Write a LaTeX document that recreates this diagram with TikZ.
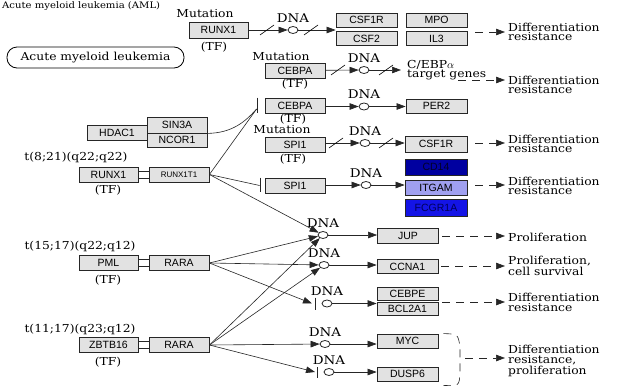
\documentclass[tikz,border=0pt]{standalone}
\usepackage{fontspec}
\usepackage{tikz}
\usetikzlibrary{arrows.meta,shapes.geometric}
\newfontfamily\keggserif{DejaVu Serif}[FakeStretch=1.12]
\newfontfamily\keggsans{Liberation Sans}
\newcommand\lblfont{\keggserif\fontsize{11}{9.5}\selectfont}
\newcommand\genefont{\keggsans\fontsize{10.5}{12}\selectfont}
\definecolor{boxgray}{RGB}{226,226,226}
\definecolor{cdnavy}{RGB}{0,0,160}
\definecolor{cdtext}{RGB}{0,0,40}
\definecolor{itgamfill}{RGB}{160,160,240}
\definecolor{fcgrfill}{RGB}{20,20,230}
\definecolor{fcgrtext}{RGB}{0,0,90}
\tikzset{
  gene/.style={draw=black!85, fill=boxgray, line width=0.8pt, minimum width=60pt, minimum height=15pt, inner sep=0pt, font=\genefont},
  lbl/.style={inner sep=0pt, font=\lblfont, align=left},
  dna/.style={draw=black!85, ellipse, line width=0.8pt, minimum width=10pt, minimum height=7pt, inner sep=0pt, label={[lbl, font=\keggserif\fontsize{12}{12}\selectfont, label distance=3.5pt]above:DNA}},
  link/.style={draw=black!85, line width=0.6pt},
  act/.style={link, -{Triangle[length=9pt,width=6.5pt]}},
  eff/.style={act, dash pattern=on 8pt off 6pt, shorten >=3pt},
  inhbar/.style={draw=black!85, line width=0.9pt},
  mutslash/.pic={\draw[-, solid, line width=0.6pt] (-7,5) -- (7,-5);}
}
\begin{document}
\begin{tikzpicture}[x=1pt,y=-1pt]
\useasboundingbox (0,0) rectangle (617,391);
\fill[white] (0,0) rectangle (617,391);
\node[lbl, anchor=base west, font=\keggserif\fontsize{9}{9}\selectfont] (title) at (2,8) {Acute myeloid leukemia (AML)};

\node[draw, line width=0.8pt, rounded corners=10pt, minimum width=177pt, minimum height=21pt, inner sep=0pt, font=\lblfont] (aml) at (95.5,57.5) {Acute myeloid leukemia};

\node[lbl] (mutA) at (205,14) {Mutation};
\node[gene, minimum width=59pt, minimum height=16pt] (runxA) at (218.5,30) {RUNX1};
\node[lbl] (tfA) at (214,47) {(TF)};
\node[dna] (dnaA) at (293,30) {};
\node[gene, minimum width=61pt, minimum height=14pt] (csf1rA) at (366.5,20) {CSF1R};
\node[gene, minimum width=61pt, minimum height=14pt] (mpo) at (436.5,20) {MPO};
\node[gene, minimum width=61pt, minimum height=14pt] (csf2) at (366.5,38.5) {CSF2};
\node[gene, minimum width=61pt, minimum height=14pt] (il3) at (436.5,38.5) {IL3};
\node[lbl, anchor=west] (diffA) at (508,32) {Differentiation\\resistance};

\node[lbl] (mutB) at (281,57) {Mutation};
\node[gene] (cebpaA) at (295,70.5) {CEBPA};
\node[lbl] (tfB) at (295,84) {(TF)};
\node[dna] (dnaB) at (364,70) {};
\node[lbl, anchor=west] (target) at (407,70) {C/EBP$\alpha$\\target genes};
\node[lbl, anchor=west] (diffB) at (508,85) {Differentiation\\resistance};

\node[gene] (cebpaB) at (295,105.5) {CEBPA};
\node[lbl] (tfC) at (293,119) {(TF)};
\node[dna] (dnaC) at (364,106.5) {};
\node[gene, minimum width=61pt, minimum height=14pt] (per2) at (436.5,106) {PER2};

\node[gene] (hdac1) at (117,132.5) {HDAC1};
\node[gene, minimum height=16pt] (sin3a) at (177,125) {SIN3A};
\node[gene, minimum height=14pt] (ncor1) at (177,140) {NCOR1};

\node[lbl] (mutC) at (282,130) {Mutation};
\node[gene] (spi1A) at (295,144.5) {SPI1};
\node[lbl] (tfD) at (293,159) {(TF)};
\node[dna] (dnaD) at (365,143) {};
\node[gene, minimum width=62pt, minimum height=16pt] (csf1rB) at (436,144) {CSF1R};
\node[lbl, anchor=west] (diffC) at (508,144) {Differentiation\\resistance};

\node[lbl] (t821) at (76,157.5) {t(8;21)(q22;q22)};
\node[gene, minimum width=59pt] (runxB) at (108.5,174.5) {RUNX1};
\node[gene, font=\keggsans\fontsize{8}{9}\selectfont] (runx1t1) at (179,174.5) {RUNX1T1};
\node[lbl] (tfE) at (108,190) {(TF)};
\node[gene] (spi1B) at (295,185.5) {SPI1};
\node[dna] (dnaE) at (366,185) {};
\node[gene, minimum width=62pt, minimum height=16pt, fill=cdnavy, text=cdtext] (cd14) at (436,167) {CD14};
\node[gene, minimum width=62pt, fill=itgamfill] (itgam) at (436,187.5) {ITGAM};
\node[gene, minimum width=62pt, minimum height=17pt, fill=fcgrfill, text=fcgrtext] (fcgr1a) at (436,207.5) {FCGR1A};
\node[lbl, anchor=west] (diffD) at (508,186) {Differentiation\\resistance};

\node[lbl] (t1517) at (80,246) {t(15;17)(q22;q12)};
\node[gene, minimum width=59pt] (pml) at (108.5,263) {PML};
\node[gene] (raraA) at (179,263) {RARA};
\node[lbl] (tfF) at (108,280) {(TF)};

\node[lbl] (t1117) at (80,329) {t(11;17)(q23;q12)};
\node[gene, minimum width=59pt] (zbtb16) at (108.5,345) {ZBTB16};
\node[gene] (raraB) at (179,345) {RARA};
\node[lbl] (tfG) at (108,362) {(TF)};

\node[dna] (dnaF) at (323,235) {};
\node[gene, minimum width=61pt] (jup) at (408,235.5) {JUP};
\node[lbl, anchor=west] (prolA) at (508,237) {Proliferation};
\node[dna] (dnaG) at (324,265) {};
\node[gene, minimum width=61pt, minimum height=14pt] (ccna1) at (407.5,266.5) {CCNA1};
\node[lbl, anchor=west] (prolB) at (508,266) {Proliferation,\\cell survival};
\node[dna] (dnaH) at (327,303.5) {};
\node[gene, minimum width=61pt, minimum height=13pt] (cebpe) at (407.5,294) {CEBPE};
\node[gene, minimum width=61pt, minimum height=13pt] (bcl2a1) at (407.5,308.5) {BCL2A1};
\node[lbl, anchor=west] (diffE) at (508,302.5) {Differentiation\\resistance};
\node[dna] (dnaI) at (325,344) {};
\node[gene, minimum width=61pt, minimum height=14pt] (myc) at (407.5,341) {MYC};
\node[dna] (dnaJ) at (329,372) {};
\node[gene, minimum width=61pt, minimum height=14pt] (dusp6) at (407.5,374) {DUSP6};
\node[lbl, anchor=west] (diffF) at (508,361) {Differentiation\\resistance,\\proliferation};

\draw[act] (runxA) -- (dnaA);
\draw[act] (dnaA) -- (dnaA -| csf1rA.west);
\draw[act] (cebpaA) -- (dnaB);
\draw[act, shorten >=6pt] (dnaB) -- (dnaB -| target.west);
\draw[act] (cebpaB.east |- dnaC) -- (dnaC);
\draw[act] (dnaC) -- (dnaC -| per2.west);
\draw[act] (spi1A.east |- dnaD) -- (dnaD);
\draw[act] (dnaD) -- (dnaD -| csf1rB.west);
\draw[act] (spi1B.east |- dnaE) -- (dnaE);
\draw[act] (dnaE) -- (dnaE -| itgam.west);
\foreach \p in {(267,30),(311,30),(338,70),(386,70),(336,143),(386,143)}
  \pic at \p {mutslash};

\draw[inhbar] ([xshift=-7pt]cebpaB.north west) -- ([xshift=-7pt]cebpaB.south west);
\draw[link] (sin3a.south east) .. controls (232,133) and (245,122) .. ([xshift=-8pt,yshift=-3.5pt]cebpaB.west);
\draw[link] (runx1t1.east) -- ([xshift=-8pt,yshift=-3.5pt]cebpaB.west);
\draw[inhbar] ([xshift=-4pt]spi1B.north west) -- ([xshift=-4pt,yshift=1pt]spi1B.south west);
\draw[link] (runx1t1.east) -- ([xshift=-5pt]spi1B.west);
\draw[act] (runx1t1.east) -- (dnaF);

\foreach \g in {runxB,pml,zbtb16}{
  \draw[link] ([yshift=3.5pt]\g.east) -- ++(11,0);
  \draw[link] ([yshift=-3.5pt]\g.east) -- ++(11,0);
}

\draw[act] (raraA.east) -- (dnaF);
\draw[act] (raraA.east) -- (dnaG);
\draw[act] (raraA.east) -- ([xshift=-15pt]dnaH.center);
\draw[inhbar] ([xshift=-12pt,yshift=6pt]dnaH.center) -- ([xshift=-12pt,yshift=-6.5pt]dnaH.center);
\draw[act] (raraB.east) -- (dnaF);
\draw[act] (raraB.east) -- (dnaG);
\draw[act] (raraB.east) -- (dnaI);
\draw[act] (raraB.east) -- ([xshift=-14pt]dnaJ.center);
\draw[inhbar] ([xshift=-12pt,yshift=5pt]dnaJ.center) -- ([xshift=-12pt,yshift=-6pt]dnaJ.center);

\draw[act] (dnaF) -- (dnaF -| jup.west);
\draw[act] (dnaG) -- (dnaG -| ccna1.west);
\draw[act] (dnaH) -- (dnaH -| cebpe.west);
\draw[act] (dnaI) -- (dnaI -| myc.west);
\draw[act] (dnaJ) -- (dnaJ -| dusp6.west);

\coordinate (eA) at (475,32);
\coordinate (eB) at (458,80);
\coordinate (eC) at (475,143);
\coordinate (eD) at (475,185);
\coordinate (eF) at (442,236);
\coordinate (eG) at (441,266);
\coordinate (eH) at (442,302);
\coordinate (eJ) at (465,358);
\draw[eff] (eA) -- (eA -| diffA.west);
\draw[eff] (eB) -- (eB -| diffB.west);
\draw[eff] (eC) -- (eC -| diffC.west);
\draw[eff] (eD) -- (eD -| diffD.west);
\draw[eff] (eF) -- (eF -| prolA.west);
\draw[eff] (eG) -- (eG -| prolB.west);
\draw[eff] (eH) -- (eH -| diffE.west);
\draw[link, dash pattern=on 8pt off 6pt] ([xshift=5pt]myc.north east) .. controls (458,334) .. (460,347) -- (460,374) .. controls (459,386) .. ([xshift=5pt,yshift=-4pt]dusp6.south east);
\draw[eff] (eJ) -- (eJ -| diffF.west);
\end{tikzpicture}
\end{document}
